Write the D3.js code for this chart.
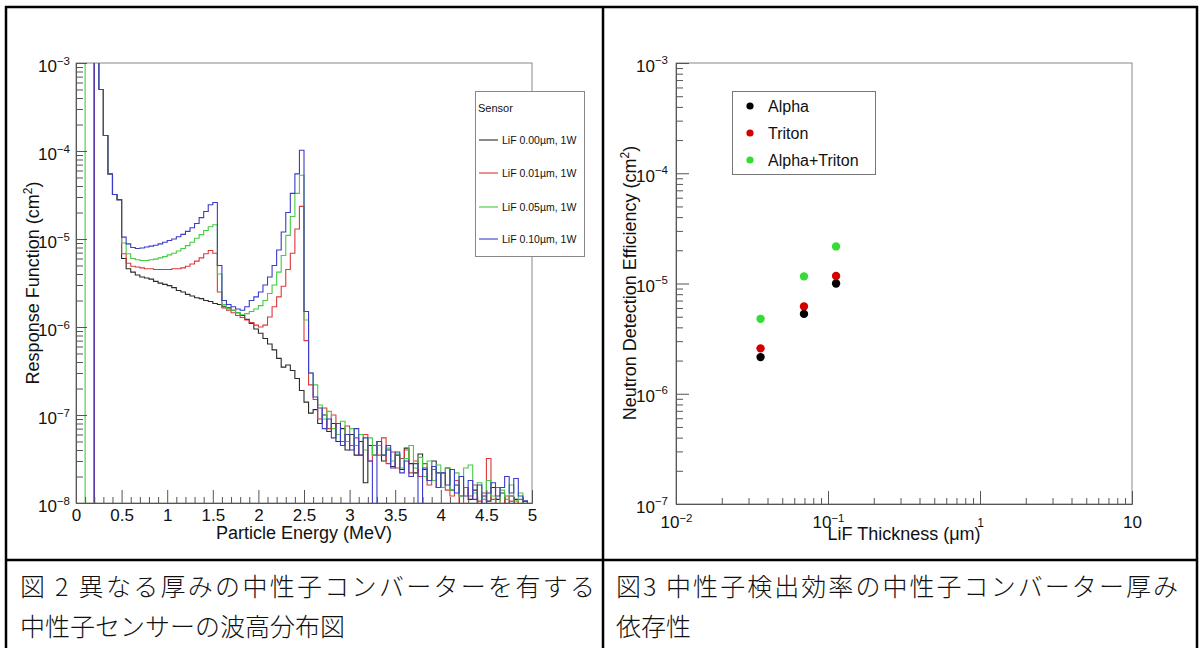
<!DOCTYPE html>
<html>
<head>
<meta charset="utf-8">
<script src="https://cdn.jsdelivr.net/npm/d3@7"></script>
<style>
  body { margin: 0; background: #fff; }
  svg { display: block; }
  text { font-family: "Liberation Sans", Arial, Helvetica, sans-serif; fill: #111; }
  .cap { font-family: "Noto Sans CJK JP", sans-serif; font-weight: 300; }
</style>
</head>
<body>
<div id="fig"></div>
<script>
// ---- data: response function histograms, 0.05 MeV bins from 0 to 5 MeV
var binWidth = 0.05;
var lif000 = [0,0,0,0,3e-3,5.0e-4,1.5e-4,5.5e-5,3.2e-5,2.8e-5,
  6.0e-6,4.6e-6,4.2e-6,3.9e-6,3.7e-6,3.6e-6,3.5e-6,3.3e-6,3.15e-6,3.05e-6,
  2.95e-6,2.8e-6,2.6e-6,2.5e-6,2.35e-6,2.25e-6,2.15e-6,2.1e-6,2.0e-6,1.95e-6,
  1.85e-6,1.8e-6,1.72e-6,1.65e-6,1.55e-6,1.45e-6,1.35e-6,1.22e-6,1.1e-6,9.5e-7,
  8.5e-7,7.4e-7,6.4e-7,5.5e-7,4.4e-7,3.5e-7,3.7e-7,3.2e-7,2.6e-7,1.9e-7,
  1.4e-7,1.05e-7,1.15e-7,8e-8,1e-7,6.5e-8,8e-8,5e-8,7e-8,4e-8,
  6e-8,3.5e-8,5e-8,1.7e-8,4.5e-8,3.5e-8,5e-8,3e-8,4e-8,2.6e-8,
  3.5e-8,2.4e-8,4.2e-8,2.8e-8,2.2e-8,3.6e-8,2.4e-8,1.8e-8,3e-8,2.2e-8,
  1.5e-8,2.5e-8,1.4e-8,1.6e-8,1.2e-8,1.5e-8,1.1e-8,1.4e-8,0,1.2e-8,
  1.05e-8,1.5e-8,1.1e-8,1.3e-8,0,1.2e-8,1.1e-8,0,1.05e-8,0];
var lif001 = [0,0,0,0,3e-3,5.0e-4,1.5e-4,5.5e-5,3.2e-5,2.8e-5,
  6.8e-6,5.3e-6,4.9e-6,4.8e-6,4.7e-6,4.6e-6,4.6e-6,4.5e-6,4.5e-6,4.5e-6,
  4.5e-6,4.6e-6,4.6e-6,4.7e-6,4.9e-6,5.2e-6,5.6e-6,6.1e-6,6.8e-6,7.4e-6,
  6.9e-6,2.5e-6,1.65e-6,1.55e-6,1.45e-6,1.35e-6,1.28e-6,1.2e-6,1.12e-6,1.05e-6,
  1.0e-6,1.05e-6,1.3e-6,1.7e-6,2.2e-6,2.9e-6,4.5e-6,6.9e-6,1.3e-5,2.35e-5,
  7e-7,2.2e-7,1.5e-7,9e-8,1.2e-7,7e-8,1e-7,6e-8,5e-8,7.5e-8,
  4.5e-8,5.5e-8,3.5e-8,6e-8,3e-8,4.5e-8,3.5e-8,5.5e-8,2.8e-8,3.8e-8,
  2.5e-8,3.2e-8,4e-8,2.2e-8,3e-8,2e-8,2.8e-8,1.6e-8,2.4e-8,1.5e-8,
  2.2e-8,1.4e-8,1.2e-8,1.8e-8,0,1.5e-8,1.2e-8,1.6e-8,1.05e-8,1.3e-8,
  3.2e-8,1.1e-8,1.5e-8,0,1.2e-8,1.05e-8,0,1.1e-8,0,0];
var lif005 = [0,0,5e-3,5e-3,3e-3,5.0e-4,1.5e-4,5.5e-5,3.2e-5,2.8e-5,
  9.0e-6,6.8e-6,6.0e-6,5.8e-6,5.7e-6,5.7e-6,5.8e-6,5.9e-6,6.1e-6,6.3e-6,
  6.6e-6,6.9e-6,7.3e-6,7.8e-6,8.4e-6,9.2e-6,1.02e-5,1.12e-5,1.25e-5,1.38e-5,
  1.45e-5,4e-6,1.8e-6,1.6e-6,1.55e-6,1.45e-6,1.38e-6,1.42e-6,1.5e-6,1.6e-6,
  1.75e-6,2.0e-6,2.4e-6,3.0e-6,4.2e-6,6.5e-6,1.1e-5,1.8e-5,3.3e-5,5.3e-5,
  1.2e-6,3e-7,2.2e-7,1.3e-7,9e-8,1.1e-7,7e-8,6e-8,8.5e-8,5e-8,
  7e-8,4.5e-8,6e-8,4e-8,5.5e-8,3.5e-8,4.5e-8,3.5e-8,4.2e-8,3e-8,
  3.6e-8,2.5e-8,3.2e-8,4.5e-8,2.5e-8,3.3e-8,2e-8,3e-8,1.8e-8,2.7e-8,
  1.5e-8,2.5e-8,1.4e-8,2.2e-8,1.2e-8,2.5e-8,2.7e-8,1.3e-8,1.7e-8,1.1e-8,
  1.8e-8,1.2e-8,0,1.4e-8,1.1e-8,1.6e-8,1.05e-8,1.3e-8,0,0];
var lif010 = [0,0,0,0,3e-3,5.0e-4,1.5e-4,5.5e-5,3.2e-5,2.8e-5,
  1.05e-5,8.8e-6,8.0e-6,7.8e-6,7.9e-6,8.1e-6,8.3e-6,8.5e-6,8.8e-6,9.2e-6,
  9.6e-6,1.0e-5,1.06e-5,1.13e-5,1.22e-5,1.34e-5,1.5e-5,1.75e-5,2.05e-5,2.45e-5,
  2.6e-5,5e-6,2.0e-6,1.8e-6,1.7e-6,1.6e-6,1.55e-6,1.7e-6,2.0e-6,2.2e-6,
  2.5e-6,3.0e-6,3.7e-6,5.0e-6,7.5e-6,1.2e-5,2.0e-5,3.3e-5,5.5e-5,1.02e-4,
  1.5e-6,3e-7,1.6e-7,1.2e-7,7e-8,9e-8,5.5e-8,8e-8,4.5e-8,6e-8,
  4e-8,7e-8,3.5e-8,5.5e-8,3e-8,0,5e-8,3.5e-8,4.5e-8,2.5e-8,
  3.8e-8,2.2e-8,3e-8,2e-8,2.8e-8,0,2.5e-8,1.8e-8,2.6e-8,1.5e-8,
  2.2e-8,1.6e-8,2.4e-8,1.3e-8,2.0e-8,1.2e-8,1.8e-8,1.1e-8,1.6e-8,0,
  1.3e-8,1.7e-8,1.2e-8,1.5e-8,2.0e-8,1.3e-8,1.9e-8,1.2e-8,1.05e-8,0];
var sensorNames = ["LiF 0.00µm, 1W", "LiF 0.01µm, 1W", "LiF 0.05µm, 1W", "LiF 0.10µm, 1W"];
var sensorColors = ["#2a2a2a", "#dd3838", "#44cc44", "#3b3bcc"];

// ---- data: neutron detection efficiency vs LiF thickness
var thickness = [0.036, 0.0695, 0.113];
var effAlpha = [2.15e-6, 5.3e-6, 1.0e-5];
var effTriton = [2.58e-6, 6.2e-6, 1.17e-5];
var effSum = [4.78e-6, 1.16e-5, 2.17e-5];
var effNames = ["Alpha", "Triton", "Alpha+Triton"];
var effColors = ["#000000", "#d40000", "#33dd33"];

var captionLeft = ["図 2 異なる厚みの中性子コンバーターを有する", "中性子センサーの波高分布図"];
var captionRight = ["図3 中性子検出効率の中性子コンバーター厚み", "依存性"];

var W = 1202, H = 648;
var svg = d3.select("#fig").append("svg").attr("width", W).attr("height", H);
svg.append("rect").attr("width", W).attr("height", H).attr("fill", "#fff");

function isDecade(d) {
  var l = Math.log10(d);
  return Math.abs(l - Math.round(l)) < 1e-6;
}

// power-of-ten label with a raised exponent
function powLabel(t, d, supSize, supDy) {
  var k = Math.round(Math.log10(d));
  t.text(null);
  if (k === 0) { t.text("1"); return; }
  if (k === 1) { t.text("10"); return; }
  t.append("tspan").text("10");
  t.append("tspan").attr("font-size", supSize).attr("dy", supDy).text((k < 0 ? "\u2212" : "") + Math.abs(k));
}

function styleAxis(g) {
  g.attr("font-family", null).attr("font-size", 17);
  g.select(".domain").attr("stroke", "#555");
  g.selectAll(".tick line").attr("stroke", "#555");
}

// ================= left chart =================
var x1 = d3.scaleLinear().domain([0, 5]).range([76, 532]);
var y1 = d3.scaleLog().domain([1e-8, 1e-3]).range([503, 63]);

svg.append("clipPath").attr("id", "clip1").append("rect")
  .attr("x", 76).attr("y", 63).attr("width", 456).attr("height", 440);

// frame
svg.append("rect").attr("x", 76).attr("y", 63).attr("width", 456).attr("height", 440)
  .attr("fill", "none").attr("stroke", "#888");

var histLine = d3.line()
  .x(function(d) { return x1(d[0]); })
  .y(function(d) { return y1(Math.max(d[1], 1e-9)); })
  .curve(d3.curveStepAfter);

var allSeries = [lif000, lif001, lif005, lif010];
allSeries.forEach(function(vals, s) {
  var pts = vals.map(function(v, i) { return [i * binWidth, v]; });
  pts.push([5, vals[vals.length - 1]]);
  svg.append("path")
    .attr("clip-path", "url(#clip1)")
    .attr("d", histLine(pts))
    .attr("fill", "none")
    .attr("stroke", sensorColors[s])
    .attr("stroke-width", 1.1);
});

// x axis
var xMinor1 = d3.range(1, 50).filter(function(i) { return i % 5; }).map(function(i) { return i / 10; });
svg.append("g").attr("transform", "translate(0," + y1(1e-8) + ")")
  .call(d3.axisBottom(x1).tickValues(xMinor1).tickSize(-6).tickFormat("").tickSizeOuter(0))
  .call(styleAxis);
var gx1 = svg.append("g").attr("transform", "translate(0," + y1(1e-8) + ")")
  .call(d3.axisBottom(x1).tickValues(d3.range(0, 11).map(function(i) { return i / 2; }))
    .tickSize(-13).tickSizeOuter(0).tickFormat(function(d) { return d; }))
  .call(styleAxis);
gx1.selectAll(".tick text").attr("dy", null).attr("y", 18);

// y axis
var yTicks1 = y1.ticks();
svg.append("g").attr("transform", "translate(76,0)")
  .call(d3.axisLeft(y1).tickValues(yTicks1.filter(function(d) { return !isDecade(d); }))
    .tickSize(-7).tickFormat("").tickSizeOuter(0))
  .call(styleAxis);
var gy1 = svg.append("g").attr("transform", "translate(76,0)")
  .call(d3.axisLeft(y1).tickValues(yTicks1.filter(isDecade)).tickSize(-11).tickPadding(6).tickSizeOuter(0))
  .call(styleAxis);
gy1.selectAll(".tick text").attr("dy", null).attr("y", 8)
  .each(function(d) { powLabel(d3.select(this), d, 11.5, -7); });

// titles
svg.append("text").attr("x", 304).attr("y", 539).attr("text-anchor", "middle")
  .attr("font-size", 18).text("Particle Energy (MeV)");
var yt1 = svg.append("text").attr("transform", "translate(39,283) rotate(-90)")
  .attr("text-anchor", "middle").attr("font-size", 18);
yt1.append("tspan").text("Response Function (cm");
yt1.append("tspan").attr("font-size", 12).attr("dy", -7).text("2");
yt1.append("tspan").attr("dy", 7).text(")");

// legend
var lg1 = svg.append("g");
lg1.append("rect").attr("x", 475.5).attr("y", 91.5).attr("width", 109).attr("height", 165)
  .attr("fill", "#fff").attr("stroke", "#888");
lg1.append("text").attr("x", 478).attr("y", 112).attr("font-size", 11).text("Sensor");
var legY1 = [140, 173, 207, 239];
sensorNames.forEach(function(n, i) {
  lg1.append("line").attr("x1", 479).attr("x2", 498).attr("y1", legY1[i]).attr("y2", legY1[i])
    .attr("stroke", sensorColors[i]).attr("stroke-width", 1.1);
  lg1.append("text").attr("x", 502).attr("y", legY1[i] + 4).attr("font-size", 10.5).text(n);
});

// ================= right chart =================
var x2 = d3.scaleLog().domain([0.01, 10]).range([676, 1132]);
var y2 = d3.scaleLog().domain([1e-7, 1e-3]).range([504, 63]);

svg.append("rect").attr("x", 676).attr("y", 63).attr("width", 456).attr("height", 441)
  .attr("fill", "none").attr("stroke", "#888");

var xTicks2 = x2.ticks();
svg.append("g").attr("transform", "translate(0,504)")
  .call(d3.axisBottom(x2).tickValues(xTicks2.filter(function(d) { return !isDecade(d); }))
    .tickSize(-6).tickFormat("").tickSizeOuter(0))
  .call(styleAxis);
var gx2 = svg.append("g").attr("transform", "translate(0,504)")
  .call(d3.axisBottom(x2).tickValues(xTicks2.filter(isDecade)).tickSize(-13).tickSizeOuter(0))
  .call(styleAxis);
gx2.selectAll(".tick text").attr("dy", null).attr("y", 24)
  .each(function(d) {
    var t = d3.select(this);
    powLabel(t, d, 11.5, -6);
    if (Math.round(Math.log10(d)) === 0) t.attr("font-size", 12).attr("y", 23);
  });

var yTicks2 = y2.ticks();
svg.append("g").attr("transform", "translate(676,0)")
  .call(d3.axisLeft(y2).tickValues(yTicks2.filter(function(d) { return !isDecade(d); }))
    .tickSize(-7).tickFormat("").tickSizeOuter(0))
  .call(styleAxis);
var gy2 = svg.append("g").attr("transform", "translate(676,0)")
  .call(d3.axisLeft(y2).tickValues(yTicks2.filter(isDecade)).tickSize(-13).tickPadding(8).tickSizeOuter(0))
  .call(styleAxis);
gy2.selectAll(".tick text").attr("dy", null).attr("y", 8)
  .each(function(d) { powLabel(d3.select(this), d, 11.5, -8); });

var xt2 = svg.append("text").attr("x", 904).attr("y", 540).attr("text-anchor", "middle").attr("font-size", 18);
xt2.text("LiF Thickness (\u03bcm)");
var yt2 = svg.append("text").attr("transform", "translate(636,283) rotate(-90)")
  .attr("text-anchor", "middle").attr("font-size", 18);
yt2.append("tspan").text("Neutron Detection Efficiency (cm");
yt2.append("tspan").attr("font-size", 12).attr("dy", -7).text("2");
yt2.append("tspan").attr("dy", 7).text(")");

[effAlpha, effTriton, effSum].forEach(function(vals, s) {
  svg.append("g").selectAll("circle").data(vals).join("circle")
    .attr("cx", function(d, i) { return x2(thickness[i]); })
    .attr("cy", function(d) { return y2(d); })
    .attr("r", 4.2)
    .attr("fill", effColors[s]);
});

var lg2 = svg.append("g");
lg2.append("rect").attr("x", 732.5).attr("y", 91.5).attr("width", 143).attr("height", 83)
  .attr("fill", "#fff").attr("stroke", "#777");
var legY2 = [106, 133, 160];
effNames.forEach(function(n, i) {
  lg2.append("circle").attr("cx", 750).attr("cy", legY2[i]).attr("r", 3.6).attr("fill", effColors[i]);
  lg2.append("text").attr("x", 768).attr("y", legY2[i] + 5.5).attr("font-size", 16).text(n);
});

// ================= table borders and captions =================
var border = svg.append("g").attr("stroke", "#000").attr("stroke-width", 2.5);
border.append("line").attr("x1", 5).attr("x2", 1198).attr("y1", 7).attr("y2", 7);
border.append("line").attr("x1", 6).attr("x2", 6).attr("y1", 6).attr("y2", 648);
border.append("line").attr("x1", 603).attr("x2", 603).attr("y1", 6).attr("y2", 648);
border.append("line").attr("x1", 1197).attr("x2", 1197).attr("y1", 6).attr("y2", 648);
border.append("line").attr("x1", 5).attr("x2", 1198).attr("y1", 560).attr("y2", 560);

svg.append("text").attr("class", "cap").attr("x", 20).attr("y", 596).attr("font-size", 25)
  .attr("textLength", 575).attr("lengthAdjust", "spacing").text(captionLeft[0]);
svg.append("text").attr("class", "cap").attr("x", 20).attr("y", 636).attr("font-size", 25)
  .text(captionLeft[1]);
svg.append("text").attr("class", "cap").attr("x", 616).attr("y", 596).attr("font-size", 25)
  .attr("textLength", 562).attr("lengthAdjust", "spacing").text(captionRight[0]);
svg.append("text").attr("class", "cap").attr("x", 616).attr("y", 636).attr("font-size", 25)
  .text(captionRight[1]);
</script>
</body>
</html>
